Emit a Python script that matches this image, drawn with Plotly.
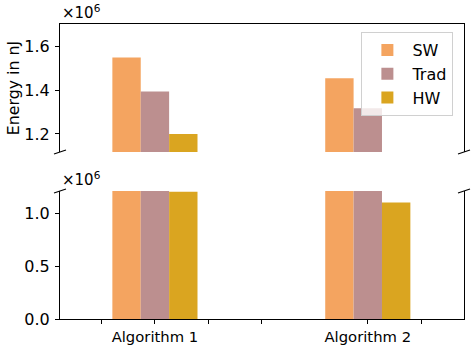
import plotly.graph_objects as go

# ---- data ----
algorithms = ["Algorithm 1", "Algorithm 2"]
x_pos = [0, 4]
series_names = ["SW", "Trad", "HW"]
sw = [1.55e6, 1.455e6]
trad = [1.395e6, 1.318e6]
hw = [1.20e6, 1.10e6]
colors = ["#F4A460", "#BC8F8F", "#DAA520"]

top_ticks = [1.2e6, 1.4e6, 1.6e6]
top_ticktext = ["1.2", "1.4", "1.6"]
bot_ticks = [0, 0.5e6, 1.0e6]
bot_ticktext = ["0.0", "0.5", "1.0"]
x_minor_ticks = [-1, 1, 2, 5]

FONT = "DejaVu Sans"
FS_X = 14.8
FS_Y = 16
FS_T = 15.8
FS_L = 16

fig = go.Figure()
for name, vals, col in zip(series_names, [sw, trad, hw], colors):
    # bottom subplot
    fig.add_trace(go.Bar(x=x_pos, y=vals, name=name, marker_color=col,
                         marker_line_width=0, xaxis="x", yaxis="y",
                         showlegend=False))
    # top subplot
    fig.add_trace(go.Bar(x=x_pos, y=vals, name=name, marker_color=col,
                         marker_line_width=0, xaxis="x2", yaxis="y2",
                         showlegend=True))

W, H = 474, 348
ml, mr, mt, mb = 60, 10, 24, 29
pw, ph = W - ml - mr, H - mt - mb
top_dom = [(H - mb - 152) / ph, 1.0]
bot_dom = [0.0, (H - mb - 191) / ph]

xrange_ = [-1.784, 5.808]

fig.update_layout(
    width=W, height=H,
    margin=dict(l=ml, r=mr, t=mt, b=mb, autoexpand=False),
    paper_bgcolor="white", plot_bgcolor="white",
    font=dict(family=FONT, size=FS_X, color="black"),
    barmode="group", bargap=0.6, bargroupgap=0,
    xaxis=dict(domain=[0, 1], anchor="y", range=xrange_, automargin=False,
               tickmode="array", tickvals=x_pos, ticktext=algorithms,
               tickfont=dict(family=FONT, size=FS_X), ticklabelstandoff=0,
               ticks="outside", ticklen=4, tickcolor="black",
               minor=dict(tickmode="array", tickvals=x_minor_ticks,
                          ticks="outside", ticklen=4, tickcolor="black",
                          showgrid=False),
               showline=True, linecolor="black", linewidth=1,
               showgrid=False, zeroline=False),
    xaxis2=dict(domain=[0, 1], anchor="y2", range=xrange_, matches="x",
                automargin=False,
                side="top", showticklabels=False, ticks="",
                showline=True, linecolor="black", linewidth=1,
                showgrid=False, zeroline=False),
    yaxis=dict(domain=bot_dom, anchor="x", range=[0, 1.2075e6], automargin=False,
               tickmode="array", tickvals=bot_ticks, ticktext=bot_ticktext,
               tickfont=dict(family=FONT, size=FS_Y), ticklabelstandoff=2,
               ticks="outside", ticklen=4, tickcolor="black",
               showline=True, mirror=True, linecolor="black", linewidth=1,
               showgrid=False, zeroline=False),
    yaxis2=dict(domain=top_dom, anchor="x2", range=[1.1175e6, 1.704e6],
                automargin=False,
                tickmode="array", tickvals=top_ticks, ticktext=top_ticktext,
                tickfont=dict(family=FONT, size=FS_Y), ticklabelstandoff=2,
                ticks="outside", ticklen=4, tickcolor="black",
                showline=True, mirror=True, linecolor="black", linewidth=1,
                showgrid=False, zeroline=False,
                title=dict(text="Energy in nJ", standoff=0,
                           font=dict(family=FONT, size=FS_T))),
    legend=dict(x=0.746, y=(H - mb - 32) / ph, xanchor="left", yanchor="top",
                bordercolor="#d0d0d0", borderwidth=1, bgcolor="rgba(255,255,255,0.8)",
                font=dict(family=FONT, size=FS_L), itemwidth=40,
                tracegroupgap=0),
)

# exponent labels
fig.add_annotation(text="×10<sup>6</sup>", xref="paper", yref="paper",
                   x=0, y=1, xanchor="left", yanchor="bottom",
                   showarrow=False, font=dict(family=FONT, size=15), yshift=0)
fig.add_annotation(text="×10<sup>6</sup>", xref="paper", yref="paper",
                   x=0, y=bot_dom[1], xanchor="left", yanchor="bottom",
                   showarrow=False, font=dict(family=FONT, size=15), yshift=0)

# axis-break marks
dx, dy = 6 / pw, 2 / ph
for xc in (0, 1):
    for yc in (top_dom[0], bot_dom[1]):
        fig.add_shape(type="line", xref="paper", yref="paper",
                      x0=xc - dx, y0=yc - dy, x1=xc + dx, y1=yc + dy,
                      line=dict(color="black", width=1.2))

fig.write_html("out.html")
